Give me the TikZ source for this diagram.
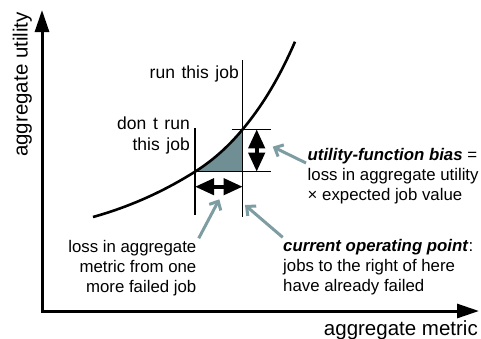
\documentclass[tikz,border=0pt]{standalone}
\usepackage{fontspec}
\setmainfont{Liberation Sans}
\usetikzlibrary{arrows.meta}
\definecolor{regionfill}{HTML}{6F8F95}
\definecolor{pointer}{HTML}{7D9DA3}
\newcommand{\widespaces}{\spaceskip=6.6pt plus 1pt minus 1pt\relax}
\begin{document}
\begin{tikzpicture}[x=1pt,y=-1pt,
  axistip/.tip={Triangle[length=22pt,width=14pt]},
  bigtip/.tip={Triangle[length=19pt,width=16pt]},
  axis/.style={line width=3pt,line join=miter},
  thinline/.style={line width=1.2pt},
  curveline/.style={line width=2.6pt},
  bigdouble/.style={line width=4pt,{bigtip}-{bigtip}},
  pointerarrow/.style={draw=pointer,line width=3pt,-{Straight Barb[length=7pt,width=13pt]}},
  lbl/.style={inner sep=0pt,font=\fontsize{16.8}{20}\selectfont},
  widelbl/.style={inner sep=0pt,font=\fontsize{17.5}{21}\selectfont\widespaces},
  axislbl/.style={inner sep=0pt,font=\fontsize{20.5}{24}\selectfont}]
\useasboundingbox (0,0) rectangle (481,338);
% axes
\coordinate (O) at (42,311);
\coordinate (Ytip) at (42,10);
\coordinate (Xtip) at (479,311);
\draw[axis,{axistip}-{axistip}] (Ytip) -- (O) -- (Xtip);
\node[axislbl,rotate=90,anchor=base] (ylab) at (27.5,84.5) {aggregate utility};
\node[axislbl,anchor=base east] (xlab) at (478,335) {aggregate metric};
% curve points
\coordinate (P0) at (93,217);
\coordinate (P1) at (195,171.7);
\coordinate (P2) at (242.7,129.3);
\coordinate (P3) at (295,41.7);
\coordinate (P2b) at (242.7,171.7);
% shaded region
\fill[regionfill] (P1) .. controls (210.9,161.7) and (226.8,148.4) .. (P2) -- (P2b) -- cycle;
% curve
\draw[curveline] (P0) .. controls (127,207.5) and (161,193.1) .. (P1)
  .. controls (210.9,161.7) and (226.8,148.4) .. (P2)
  .. controls (260.1,108.4) and (277.6,81.7) .. (P3);
% guide lines
\coordinate (V1t) at (195,128);
\coordinate (V1b) at (195,215);
\coordinate (V2t) at (242.7,60);
\coordinate (V2b) at (242.7,216.7);
\coordinate (H1l) at (231.7,129.3);
\coordinate (H1r) at (270.7,129.3);
\coordinate (H2r) at (270.7,171.7);
\draw[thinline] (V1t) -- (V1b);
\draw[thinline] (V2t) -- (V2b);
\draw[thinline] (H1l) -- (H1r);
\draw[thinline] (P1) -- (H2r);
% double arrows
\coordinate (DVt) at (256.7,129.3);
\coordinate (DVb) at (256.7,171.7);
\coordinate (DHl) at (195,186.7);
\coordinate (DHr) at (242.7,186.7);
\draw[bigdouble] (DVt) -- (DVb);
\draw[bigdouble] (DHl) -- (DHr);
% labels (base anchor = baseline of last line)
\node[widelbl,anchor=base east] (run) at (239,78) {run this job};
\node[widelbl,anchor=base east,align=right] (dont) at (190,150) {don t run\\this job};
\node[lbl,anchor=base west,align=left] (bias) at (307.5,200) {\textbf{\textit{utility-function bias}} =\\loss in aggregate utility\\× expected job value};
\node[lbl,anchor=base east,align=right] (loss) at (196.5,292) {loss in aggregate\\metric from one\\more failed job};
\node[lbl,anchor=base west,align=left] (cur) at (283,291) {\textbf{\textit{current operating point}}:\\jobs to the right of here\\have already failed};
% pointer arrows
\coordinate (A1s) at (306,163);
\coordinate (A1e) at (272.7,146.7);
\coordinate (A2s) at (198.7,238.3);
\coordinate (A2e) at (219.3,199.3);
\coordinate (A3s) at (282.7,237.3);
\coordinate (A3e) at (245,205);
\draw[pointerarrow] (A1s) -- (A1e);
\draw[pointerarrow] (A2s) -- (A2e);
\draw[pointerarrow] (A3s) -- (A3e);
\end{tikzpicture}
\end{document}
